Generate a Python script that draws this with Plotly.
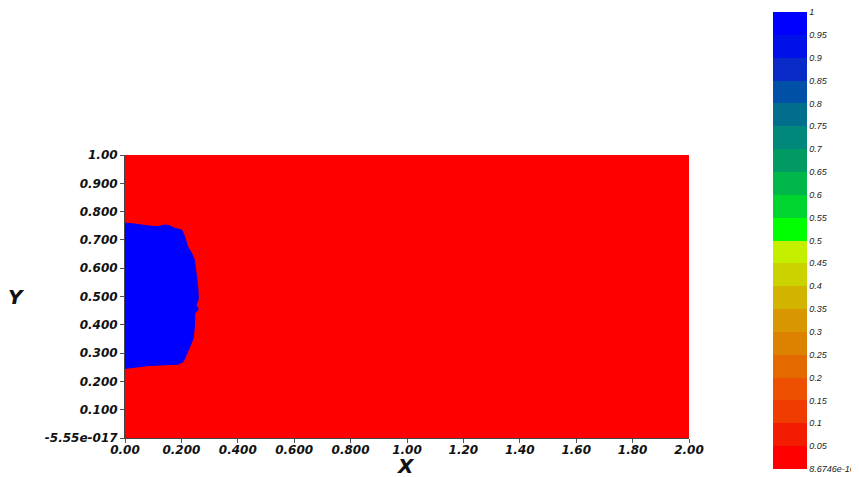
import plotly.graph_objects as go

# Field domain and background value
domain_x = [0.0, 2.0]
domain_y = [0.0, 1.0]
background_value = [[0.0]]

# Boundary of the blue (value = 1) region
blob_x = [0.0, 0.006, 0.035, 0.083, 0.118, 0.142, 0.160, 0.177, 0.201, 0.207, 0.215,
          0.222, 0.236, 0.246, 0.252, 0.258, 0.260, 0.252, 0.260, 0.248, 0.246, 0.242,
          0.230, 0.216, 0.207, 0.189, 0.142, 0.083, 0.035, 0.006, 0.0]
blob_y = [0.759, 0.759, 0.756, 0.749, 0.747, 0.753, 0.749, 0.741, 0.735, 0.723, 0.700,
          0.676, 0.653, 0.629, 0.582, 0.535, 0.490, 0.470, 0.455, 0.441, 0.393, 0.352,
          0.323, 0.293, 0.270, 0.261, 0.258, 0.256, 0.250, 0.246, 0.246]

# Tick labels
x_tickvals = [0, 0.2, 0.4, 0.6, 0.8, 1.0, 1.2, 1.4, 1.6, 1.8, 2.0]
x_ticktext = ["0.00", "0.200", "0.400", "0.600", "0.800", "1.00", "1.20", "1.40", "1.60", "1.80", "2.00"]
y_tickvals = [0, 0.1, 0.2, 0.3, 0.4, 0.5, 0.6, 0.7, 0.8, 0.9, 1.0]
y_ticktext = ["-5.55e-017", "0.100", "0.200", "0.300", "0.400", "0.500", "0.600", "0.700", "0.800", "0.900", "1.00"]

cb_tickvals = [0, 0.05, 0.1, 0.15, 0.2, 0.25, 0.3, 0.35, 0.4, 0.45, 0.5,
               0.55, 0.6, 0.65, 0.7, 0.75, 0.8, 0.85, 0.9, 0.95, 1]
cb_ticktext = ["8.6746e-162", "0.05", "0.1", "0.15", "0.2", "0.25", "0.3", "0.35", "0.4", "0.45", "0.5",
               "0.55", "0.6", "0.65", "0.7", "0.75", "0.8", "0.85", "0.9", "0.95", "1"]

# Discrete 20-band colormap (bottom -> top)
band_colors = ["#FF0000", "#F41C00", "#F03C00", "#EC5000", "#E46A00",
               "#DC8200", "#D89600", "#D2B400", "#CCD200", "#C4F000",
               "#00FF00", "#00D42E", "#00B84A", "#009A62", "#00887A",
               "#006E8C", "#0050A8", "#0A2AC8", "#0010E8", "#0000FF"]

colorscale = []
n = len(band_colors)
for i, c in enumerate(band_colors):
    colorscale.append([i / n, c])
    colorscale.append([(i + 1) / n, c])

tick_font = dict(family="DejaVu Sans", size=12, color="#111111", weight="bold", style="italic")
title_font = dict(family="DejaVu Sans", size=20, color="#111111", weight="bold", style="italic")

fig = go.Figure()
fig.add_trace(go.Heatmap(
    x=domain_x, y=domain_y, z=background_value,
    zmin=0, zmax=1, colorscale=colorscale, hoverinfo="skip",
    colorbar=dict(
        x=1.149, xanchor="left", xpad=0,
        y=0.698, yanchor="middle", ypad=0,
        len=457, lenmode="pixels",
        thickness=34, thicknessmode="pixels",
        outlinewidth=0,
        tickmode="array", tickvals=cb_tickvals, ticktext=cb_ticktext,
        ticks="", ticklabelposition="outside", ticklabeloverflow="allow",
        tickfont=dict(family="Liberation Sans", size=9, color="#222222", style="italic"),
    ),
))
fig.add_trace(go.Scatter(
    x=blob_x, y=blob_y, mode="lines", fill="toself",
    fillcolor="#0000FF", line=dict(color="#0000FF", width=1),
    showlegend=False, hoverinfo="skip",
))

fig.update_layout(
    width=851, height=469,
    margin=dict(l=117, r=170, t=147, b=39, autoexpand=False),
    paper_bgcolor="white", plot_bgcolor="white",
    showlegend=False,
    xaxis=dict(range=[0, 2], tickmode="array", tickvals=x_tickvals, ticktext=x_ticktext,
               ticks="outside", ticklen=4, tickcolor="#555555", showgrid=False, zeroline=False,
               showline=True, linecolor="#444444", linewidth=1, ticklabelstandoff=-3,
               tickfont=tick_font, automargin=False),
    yaxis=dict(range=[0, 1], tickmode="array", tickvals=y_tickvals, ticktext=y_ticktext,
               ticks="outside", ticklen=4, tickcolor="#555555", showgrid=False, zeroline=False,
               showline=True, linecolor="#444444", linewidth=1,
               tickfont=tick_font, automargin=False),
    annotations=[
        dict(text="Y", xref="paper", yref="paper", x=-0.193, y=0.5,
             xanchor="center", yanchor="middle", showarrow=False, font=title_font),
        dict(text="X", xref="paper", yref="paper", x=0.497, y=-0.099,
             xanchor="center", yanchor="middle", showarrow=False, font=title_font),
    ],
)

fig.write_html("out.html")
